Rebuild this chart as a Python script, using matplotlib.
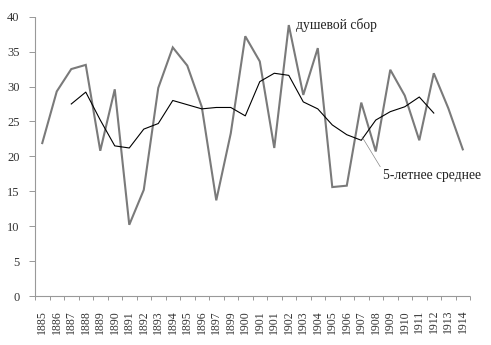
import matplotlib
matplotlib.use("Agg")
import matplotlib.pyplot as plt
import numpy as np

plt.rcParams.update({
    'font.family': ['Liberation Serif', 'DejaVu Serif'],
    'font.size': 8,
})

# year labels as printed (1898 absent, 1901 repeated)
years = ["1885", "1886", "1887", "1888", "1889", "1890", "1891", "1892",
         "1893", "1894", "1895", "1896", "1897", "1899", "1900", "1901",
         "1901", "1902", "1903", "1904", "1905", "1906", "1907", "1908",
         "1909", "1910", "1911", "1912", "1913", "1914"]

# per-capita harvest
harvest = [21.9, 29.3, 32.5, 33.1, 20.8, 29.6, 10.2, 15.2, 29.8, 35.6,
           33.0, 27.1, 13.7, 23.3, 37.2, 33.6, 21.2, 38.8, 28.8, 35.5,
           15.6, 15.8, 27.7, 20.7, 32.4, 28.7, 22.3, 31.9, 26.9, 21.0]

# 5-year moving average, 1887..1912
avg5 = [27.5, 29.2, 25.2, 21.5, 21.2, 23.9, 24.7, 28.0, 27.4, 26.8,
        27.0, 27.0, 25.8, 30.7, 31.9, 31.6, 27.8, 26.8, 24.5, 23.1,
        22.3, 25.2, 26.4, 27.1, 28.5, 26.2]

x = np.arange(len(years))
x_avg = np.arange(2, 2 + len(avg5))

fig = plt.figure(figsize=(4.91, 3.45), dpi=100)
ax = fig.add_axes([0.0713, 0.142, 0.8860, 0.8096])

ax.plot(x, harvest, color="#7a7a7a", lw=1.5, solid_joinstyle="miter")
ax.plot(x_avg, avg5, color="black", lw=0.8)

ax.set_xlim(-0.5, len(years) - 0.5)
ax.set_ylim(0, 40)

ax.set_yticks(np.arange(0, 41, 5))
ax.tick_params(axis="y", length=4, width=0.6, color="#888888",
               labelcolor="#333333", labelsize=9, pad=7)

ax.set_xticks(x)
ax.set_xticklabels(years, rotation=90, fontsize=8.5, color="#333333")
ax.tick_params(axis="x", which="major", length=0, pad=10)
ax.set_xticks(np.arange(-0.5, len(years)), minor=True)
ax.tick_params(axis="x", which="minor", length=3, width=0.6, color="#888888")

for side in ["top", "right"]:
    ax.spines[side].set_visible(False)
for side in ["left", "bottom"]:
    ax.spines[side].set_color("#999999")
    ax.spines[side].set_linewidth(0.8)
    ax.spines[side].set_linestyle((0, (1, 1)))

ax.text(17.5, 38.8, "душевой сбор", fontsize=9.8, ha="left", va="center",
        color="#222222")
ax.annotate("5-летнее среднее", xy=(22.05, 22.8), xytext=(23.5, 17.3),
            fontsize=9.8, ha="left", va="center", color="#222222",
            arrowprops=dict(arrowstyle="-", color="#888888", lw=0.5,
                            relpos=(0, 0.8), shrinkA=0, shrinkB=0))

fig.savefig("out.png", dpi=100)
